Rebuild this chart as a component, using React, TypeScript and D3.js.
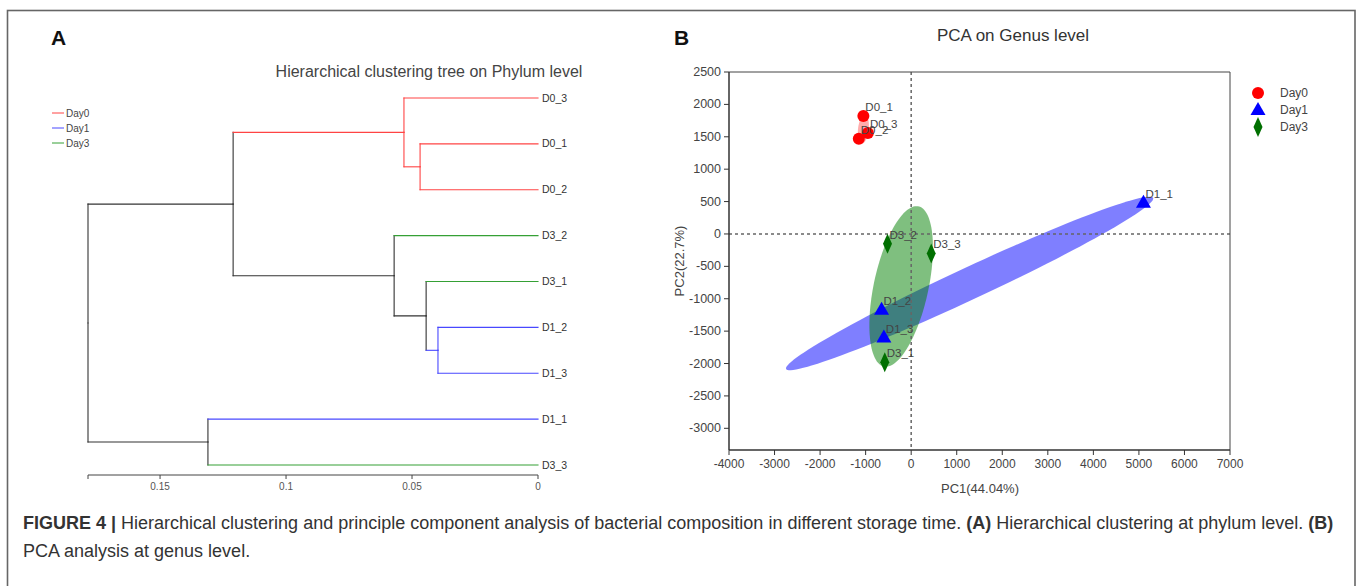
import * as d3 from "d3";

// ---- panel A: hierarchical clustering ----
const leafGroup: Record<string, string> = {
  D0_1: "Day0", D0_2: "Day0", D0_3: "Day0",
  D1_1: "Day1", D1_2: "Day1", D1_3: "Day1",
  D3_1: "Day3", D3_2: "Day3", D3_3: "Day3",
};
// linkage: node name, upper child, lower child, merge height
const mergeName = ["n0", "n1", "n2", "n3", "n4", "n5", "n6", "n7"];
const mergeUpper = ["D0_1", "D0_3", "D1_2", "D3_1", "D3_2", "n1", "D1_1", "n5"];
const mergeLower = ["D0_2", "n0", "D1_3", "n2", "n3", "n4", "D3_3", "n6"];
const mergeHeight = [0.0468, 0.0532, 0.0397, 0.0444, 0.0571, 0.121, 0.131, 0.1786];
const treeTicks = [0.15, 0.1, 0.05, 0];

const groups = ["Day0", "Day1", "Day3"];
const lineColor: Record<string, string> = { Day0: "#ff4444", Day1: "#4848ff", Day3: "#35a035" };

// ---- panel B: PCA ----
const sampleName = ["D0_1", "D0_2", "D0_3", "D1_1", "D1_2", "D1_3", "D3_1", "D3_2", "D3_3"];
const pc1 = [-1050, -1150, -950, 5100, -650, -600, -580, -520, 440];
const pc2 = [1820, 1470, 1560, 480, -1170, -1600, -1980, -150, -300];
const xTicks = d3.range(-4000, 7001, 1000);
const yTicks = d3.range(-3000, 2501, 500);
const markColor: Record<string, string> = { Day0: "#ff0000", Day1: "#0000ff", Day3: "#006f00" };
const ellipseColor: Record<string, string> = { Day0: "#ff3030", Day1: "#0000ff", Day3: "#008000" };

const FONT = "'Liberation Sans', Arial, sans-serif";

type TNode = { name: string; height: number; children?: TNode[] };

function buildTree(): TNode {
  const nodes: Record<string, TNode> = {};
  const get = (n: string) => nodes[n] || (nodes[n] = { name: n, height: 0 });
  mergeName.forEach((m, i) => {
    nodes[m] = { name: m, height: mergeHeight[i], children: [get(mergeUpper[i]), get(mergeLower[i])] };
  });
  return nodes[mergeName[mergeName.length - 1]];
}

// confidence-style ellipse from the sample covariance of a group
function ellipsePoints(xs: number[], ys: number[], k: number) {
  const n = xs.length;
  const mx = d3.mean(xs)!, my = d3.mean(ys)!;
  let sxx = 0, syy = 0, sxy = 0;
  for (let i = 0; i < n; i++) {
    sxx += (xs[i] - mx) ** 2;
    syy += (ys[i] - my) ** 2;
    sxy += (xs[i] - mx) * (ys[i] - my);
  }
  sxx /= n - 1; syy /= n - 1; sxy /= n - 1;
  const t = sxx + syy, det = sxx * syy - sxy * sxy;
  const disc = Math.sqrt(Math.max(t * t / 4 - det, 0));
  const l1 = t / 2 + disc, l2 = Math.max(t / 2 - disc, 0);
  let ex = sxy, ey = l1 - sxx;
  if (Math.abs(ex) + Math.abs(ey) < 1e-9) { ex = 1; ey = 0; }
  const len = Math.hypot(ex, ey);
  ex /= len; ey /= len;
  const a = k * Math.sqrt(l1), b = k * Math.sqrt(l2);
  return d3.range(0, 120).map((j) => {
    const th = (j / 120) * Math.PI * 2;
    const u = a * Math.cos(th), v = b * Math.sin(th);
    return [mx + u * ex - v * ey, my + u * ey + v * ex] as [number, number];
  });
}

export default function App() {
  // ---------- panel A ----------
  const root = d3.hierarchy(buildTree());
  const tx = d3.scaleLinear().domain([mergeHeight[mergeHeight.length - 1], 0]).range([88, 538]);
  const leafOrder = root.leaves().map((l) => l.data.name);
  const ty = d3.scalePoint<string>().domain(leafOrder).range([98, 465]);
  const pos = new Map<any, { x: number; y: number; color: string }>();
  root.eachAfter((nd) => {
    if (!nd.children) {
      pos.set(nd, { x: tx(0), y: ty(nd.data.name)!, color: lineColor[leafGroup[nd.data.name]] });
    } else {
      const cs = nd.children.map((c) => pos.get(c)!);
      const gs = new Set(nd.leaves().map((l) => leafGroup[l.data.name]));
      const color = gs.size === 1 ? lineColor[[...gs][0]] : "#333";
      pos.set(nd, { x: tx(nd.data.height), y: d3.mean(cs, (c) => c.y)!, color });
    }
  });
  const segs: { x1: number; y1: number; x2: number; y2: number; c: string }[] = [];
  root.descendants().forEach((nd) => {
    if (!nd.parent) return;
    const p = pos.get(nd.parent)!, c = pos.get(nd)!;
    segs.push({ x1: p.x, y1: p.y, x2: p.x, y2: c.y, c: p.color });
    segs.push({ x1: p.x, y1: c.y, x2: c.x, y2: c.y, c: c.color });
  });
  const axisY = 475;

  // ---------- panel B ----------
  const px = d3.scaleLinear().domain([-4000, 7000]).range([729, 1230]);
  const py = d3.scaleLinear().domain([-3335, 2500]).range([450, 72]);
  const line = d3.line<[number, number]>().x((d) => px(d[0])).y((d) => py(d[1])).curve(d3.curveLinearClosed);
  const byGroup = (g: string) => sampleName.map((s, i) => i).filter((i) => leafGroup[sampleName[i]] === g);
  const ellipseOrder = ["Day0", "Day1", "Day3"];

  const marker = (g: string, x: number, y: number, key?: string) => {
    if (g === "Day0") return <circle key={key} cx={x} cy={y} r={6} fill={markColor[g]} />;
    if (g === "Day1")
      return <path key={key} d={`M${x},${y - 8}L${x + 7.5},${y + 5}L${x - 7.5},${y + 5}Z`} fill={markColor[g]} />;
    return <path key={key} d={`M${x},${y - 10}L${x + 4.5},${y}L${x},${y + 10}L${x - 4.5},${y}Z`} fill={markColor[g]} />;
  };

  return (
    <svg width={1357} height={586} style={{ position: "absolute", left: 0, top: 0, background: "#fff" }} fontFamily={FONT}>
      <rect x={7.5} y={10.5} width={1347.5} height={640} fill="none" stroke="#666" strokeWidth={1.6} />

      {/* Panel A */}
      <text x={51} y={45} fontSize={21} fontWeight="bold" fill="#111">A</text>
      <text x={429} y={77} fontSize={16} fill="#444" textAnchor="middle">Hierarchical clustering tree on Phylum level</text>
      {groups.map((g, i) => (
        <g key={g} transform={`translate(52,${113 + i * 15})`}>
          <line x1={0} x2={12} y1={0} y2={0} stroke={lineColor[g]} strokeWidth={1} />
          <text x={14} y={3.5} fontSize={10} fill="#444">{g}</text>
        </g>
      ))}
      {segs.map((s, i) => (
        <line key={i} x1={s.x1} y1={s.y1} x2={s.x2} y2={s.y2} stroke={s.c} strokeWidth={1.1} strokeLinecap="square" />
      ))}
      {leafOrder.map((n) => (
        <text key={n} x={tx(0) + 4} y={ty(n)! + 3.5} fontSize={10.5} fill="#333">{n}</text>
      ))}
      <g>
        <line x1={tx.range()[0]} x2={tx.range()[1]} y1={axisY} y2={axisY} stroke="#444" strokeWidth={1} />
        {[mergeHeight[mergeHeight.length - 1], ...treeTicks].map((t, i) => (
          <line key={i} x1={tx(t)} x2={tx(t)} y1={axisY} y2={axisY + 4} stroke="#444" strokeWidth={1} />
        ))}
        {treeTicks.map((t) => (
          <text key={t} x={tx(t)} y={axisY + 15} fontSize={10} fill="#555" textAnchor="middle">{String(t)}</text>
        ))}
      </g>

      {/* Panel B */}
      <text x={674} y={45} fontSize={21} fontWeight="bold" fill="#111">B</text>
      <text x={1013} y={41} fontSize={17} fill="#333" textAnchor="middle">PCA on Genus level</text>

      {ellipseOrder.map((g) => {
        const idx = byGroup(g);
        const pts = ellipsePoints(idx.map((i) => pc1[i]), idx.map((i) => pc2[i]), 1.22);
        return <path key={g} d={line(pts)!} fill={ellipseColor[g]} fillOpacity={g === "Day0" ? 0.4 : 0.5} stroke="none" />;
      })}

      <line x1={px(0)} x2={px(0)} y1={py.range()[1]} y2={py.range()[0]} stroke="#666" strokeWidth={1.5} strokeDasharray="3,3" />
      <line x1={px.range()[0]} x2={px.range()[1]} y1={py(0)} y2={py(0)} stroke="#666" strokeWidth={1.5} strokeDasharray="3,3" />

      {sampleName.map((s, i) => marker(leafGroup[s], px(pc1[i]), py(pc2[i]), s))}
      {sampleName.map((s, i) => (
        <text key={s} x={px(pc1[i]) + 2} y={py(pc2[i]) - 5} fontSize={11.5} fill="#444">{s}</text>
      ))}

      {/* frame */}
      <line x1={px.range()[0]} x2={px.range()[1]} y1={72} y2={72} stroke="#444" strokeWidth={1} />
      <line x1={1230} x2={1230} y1={72} y2={450} stroke="#444" strokeWidth={1} />
      <line x1={729} x2={729} y1={72} y2={450} stroke="#333" strokeWidth={1.5} />
      <line x1={729} x2={1230} y1={450} y2={450} stroke="#333" strokeWidth={1.5} />
      {yTicks.map((t) => (
        <g key={t}>
          <line x1={724} x2={729} y1={py(t)} y2={py(t)} stroke="#333" strokeWidth={1} />
          <text x={721} y={py(t) + 4} fontSize={12.5} fill="#444" textAnchor="end">{t}</text>
        </g>
      ))}
      {xTicks.map((t) => (
        <g key={t}>
          <line x1={px(t)} x2={px(t)} y1={450} y2={455} stroke="#333" strokeWidth={1} />
          <text x={px(t)} y={468} fontSize={12} fill="#444" textAnchor="middle">{t}</text>
        </g>
      ))}
      <text x={980} y={493} fontSize={13} fill="#444" textAnchor="middle">PC1(44.04%)</text>
      <text transform="translate(684,261) rotate(-90)" fontSize={13} fill="#444" textAnchor="middle">PC2(22.7%)</text>

      {groups.map((g, i) => (
        <g key={g}>
          {marker(g, 1258, 93 + i * 17)}
          <text x={1280} y={97 + i * 17} fontSize={12} fill="#444">{g}</text>
        </g>
      ))}

      {/* caption */}
      <text x={23} y={529} fontSize={18} fill="#333">
        <tspan fontWeight="bold">FIGURE 4 | </tspan>
        <tspan>Hierarchical clustering and principle component analysis of bacterial composition in different storage time. </tspan>
        <tspan fontWeight="bold">(A)</tspan>
        <tspan> Hierarchical clustering at phylum level. </tspan>
        <tspan fontWeight="bold">(B)</tspan>
      </text>
      <text x={23} y={557} fontSize={18} fill="#333">PCA analysis at genus level.</text>
    </svg>
  );
}
